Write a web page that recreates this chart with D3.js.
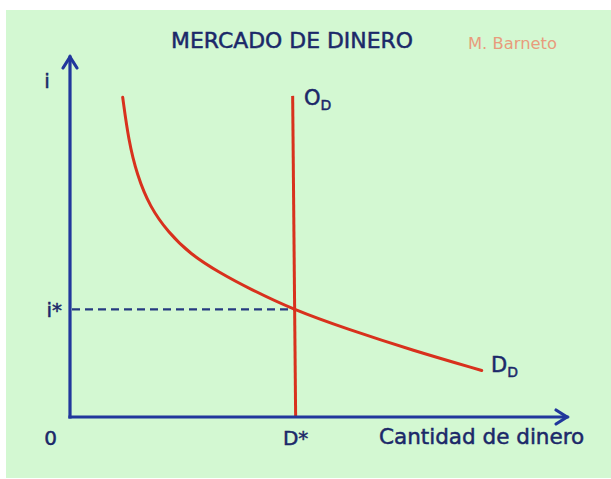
<!DOCTYPE html>
<html><head><meta charset="utf-8">
<script src="https://cdn.jsdelivr.net/npm/d3@7"></script>
<style>html,body{margin:0;padding:0;background:#fff;}svg{display:block;}</style>
</head><body>
<script>
// Data (abstract units: x = quantity of money, y = interest rate)
const demandX = [10.60, 11.77, 13.48, 16.10, 19.72, 24.14, 30.18, 36.22, 45.07, 55.73, 69.01, 82.84];
const demandY = [88.81, 76.94, 67.22, 58.33, 51.39, 45.28, 40.00, 35.56, 29.72, 24.44, 18.47, 12.92];
const supplyX = [44.8, 45.4];
const supplyY = [89.2, 0];
const eqX = 45.1, eqY = 29.9;
const xTickValues = [0, 45.4];
const xTickLabels = ["0", "D*"];
const yTickValues = [29.9];
const yTickLabels = ["i*"];
const title = "MERCADO DE DINERO";
const author = "M. Barneto";
const xTitle = "Cantidad de dinero";
const yTitle = "i";

const W = 611, H = 479;
const svg = d3.select("body").append("svg").attr("width", W).attr("height", H);
svg.append("rect").attr("x", 6).attr("y", 10).attr("width", W - 6).attr("height", H - 11).attr("fill", "#d3f8d2");

const x = d3.scaleLinear().domain([0, 100]).range([70, 567]);
const y = d3.scaleLinear().domain([0, 100]).range([417, 57]);

const axisColor = "#21379c", textColor = "#1b2869", red = "#d8311d";
const font = "'DejaVu Sans', Verdana, sans-serif";

// dashed equilibrium line
svg.append("line").attr("x1", x(0) + 2).attr("x2", x(eqX)).attr("y1", y(eqY)).attr("y2", y(eqY))
  .attr("stroke", "#263a80").attr("stroke-width", 2.2).attr("stroke-dasharray", "8,5");

// supply line
svg.append("path").datum(supplyX.map((v, i) => [v, supplyY[i]]))
  .attr("d", d3.line().x(d => x(d[0])).y(d => y(d[1])))
  .attr("fill", "none").attr("stroke", red).attr("stroke-width", 3);

// demand curve
svg.append("path").datum(demandX.map((v, i) => [v, demandY[i]]))
  .attr("d", d3.line().x(d => x(d[0])).y(d => y(d[1])).curve(d3.curveBasis))
  .attr("fill", "none").attr("stroke", red).attr("stroke-width", 3).attr("stroke-linecap", "round");

// axes
const ax = svg.append("g").attr("stroke", axisColor).attr("stroke-width", 3.2).attr("fill", "none")
  .attr("stroke-linecap", "square");
ax.append("path").attr("d", `M${x(0)},${y(0)}H${x(100)}`);
ax.append("path").attr("d", `M${x(0)},${y(0)}V${y(100)}`);
ax.append("path").attr("d", `M${x(100) - 11},${y(0) - 7}L${x(100)},${y(0)}L${x(100) - 11},${y(0) + 7}`)
  .attr("stroke-linecap", "round");
ax.append("path").attr("d", `M${x(0) - 7},${y(100) + 11}L${x(0)},${y(100)}L${x(0) + 7},${y(100) + 11}`)
  .attr("stroke-linecap", "round");

const t = svg.append("g").attr("font-family", font).attr("fill", textColor)
  .attr("stroke", textColor).attr("stroke-width", 0.5);
// x tick labels
t.selectAll(".xt").data(xTickValues).enter().append("text")
  .attr("x", d => x(d)).attr("y", 445).attr("text-anchor", (d, i) => i === 0 ? "end" : "middle")
  .attr("dx", (d, i) => i === 0 ? -13 : 0)
  .attr("font-size", 20).text((d, i) => xTickLabels[i]);
// y tick labels
t.selectAll(".yt").data(yTickValues).enter().append("text")
  .attr("x", x(0) - 8).attr("y", d => y(d) + 8).attr("text-anchor", "end")
  .attr("font-size", 20).text((d, i) => yTickLabels[i]);
// axis titles
t.append("text").attr("x", 379).attr("y", 444).attr("font-size", 21.5).text(xTitle);
t.append("text").attr("x", 47).attr("y", 88).attr("text-anchor", "middle").attr("font-size", 20).text(yTitle);
// chart title
t.append("text").attr("x", 292).attr("y", 48).attr("text-anchor", "middle").attr("font-size", 22)
  .attr("textLength", 242).attr("lengthAdjust", "spacingAndGlyphs").text(title);
svg.append("text").attr("x", 468).attr("y", 49).attr("font-family", font).attr("font-size", 15.5)
  .attr("fill", "#e89c7c").attr("textLength", 89).attr("lengthAdjust", "spacingAndGlyphs").text(author);
// curve labels
const od = t.append("text").attr("x", 304).attr("y", 105).attr("font-size", 21);
od.append("tspan").text("O");
od.append("tspan").attr("font-size", 14).attr("dy", 5).text("D");
const dd = t.append("text").attr("x", 491).attr("y", 372).attr("font-size", 21);
dd.append("tspan").text("D");
dd.append("tspan").attr("font-size", 14).attr("dy", 5).text("D");
</script>
</body></html>
